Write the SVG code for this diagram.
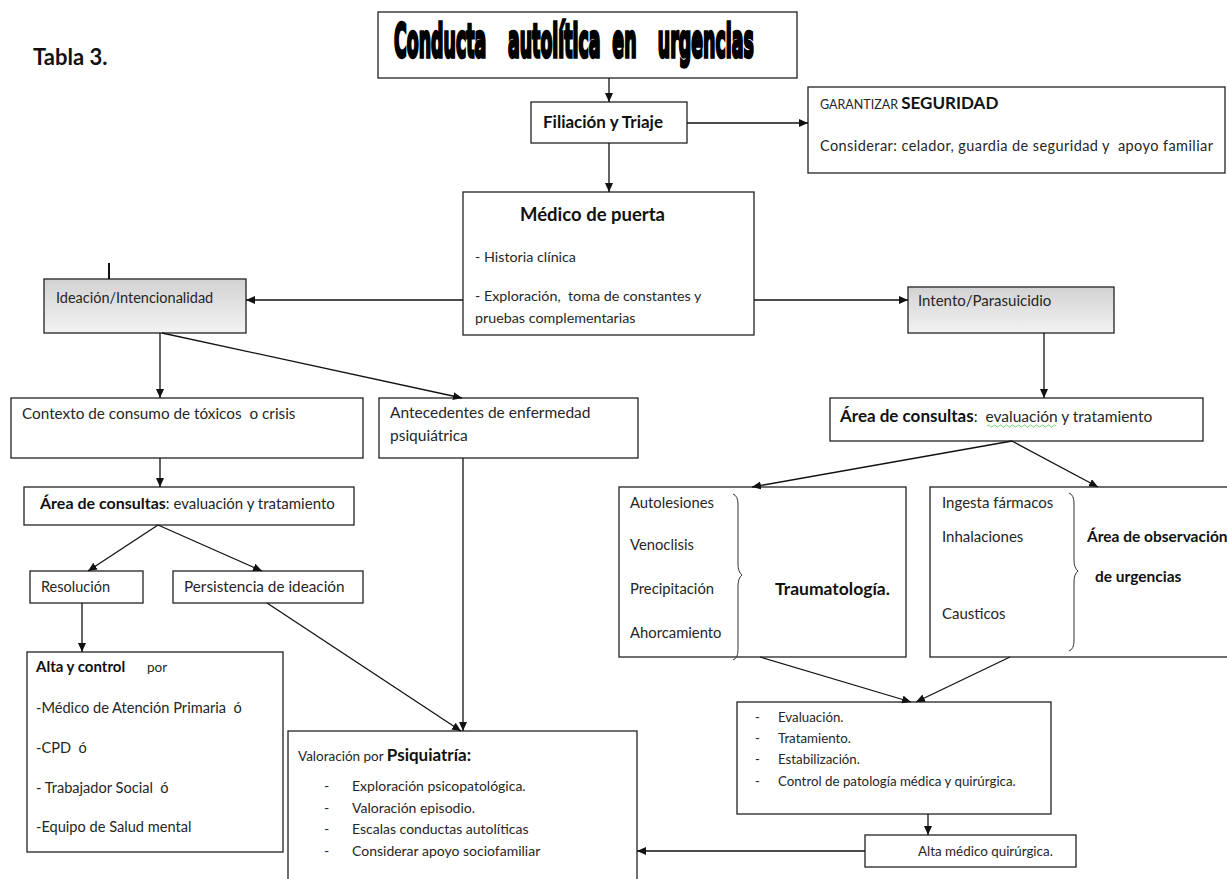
<svg xmlns="http://www.w3.org/2000/svg" width="1227" height="879" viewBox="0 0 1227 879">
<style>
.box{fill:#fff;stroke:#222;stroke-width:1.3}
.gbox{fill:url(#gray);stroke:#222;stroke-width:1.3}
.t{font-family:Lato,"Open Sans","Liberation Sans",sans-serif;font-size:15px;fill:#262626}
.b{font-weight:bold;fill:#111}
.ti{font-family:"DejaVu Sans",sans-serif;font-weight:bold;font-size:47px;fill:#000;stroke:#000;stroke-width:3.5}
.c{fill:none;stroke:#111;stroke-width:1.3}
.br{fill:none;stroke:#333;stroke-width:1}
</style>
<defs>
<linearGradient id="gray" x1="0" y1="0" x2="0" y2="1">
<stop offset="0" stop-color="#d2d2d2"/>
<stop offset="1" stop-color="#f3f3f3"/>
</linearGradient>
<marker id="ah" markerUnits="userSpaceOnUse" markerWidth="10" markerHeight="9" refX="9" refY="4" orient="auto">
<path d="M0,0 L9,4 L0,8 z" fill="#111"/>
</marker>
</defs>

<text class="t b" x="33" y="65" style="font-size:22px">Tabla 3.</text>

<g id="title">
<rect class="box" x="378" y="12" width="419" height="66"/>
<text class="ti" transform="scale(0.37,1)" y="57"><tspan x="1065">Conducta</tspan><tspan x="1373">autolítica</tspan><tspan x="1655">en</tspan><tspan x="1778">urgencias</tspan></text>
</g>

<g id="filiacion">
<rect class="box" x="531" y="102" width="156" height="41"/>
<text class="t b" x="543" y="128" style="font-size:17px">Filiación y Triaje</text>
</g>

<g id="seguridad">
<rect class="box" x="808" y="87" width="417" height="86"/>
<text class="t" x="820" y="109"><tspan style="font-size:12.5px">GARANTIZAR </tspan><tspan class="b" style="font-size:17px">SEGURIDAD</tspan></text>
<text class="t" x="820" y="151" style="font-size:14.5px" textLength="393" xml:space="preserve">Considerar: celador, guardia de seguridad y  apoyo familiar</text>
</g>

<g id="medico">
<rect class="box" x="463" y="192" width="291" height="143"/>
<text class="t b" x="520" y="221" style="font-size:18.5px">Médico de puerta</text>
<text class="t" x="475" y="262" style="font-size:14.3px">- Historia clínica</text>
<text class="t" x="475" y="301" style="font-size:14.3px" xml:space="preserve">- Exploración,  toma de constantes y</text>
<text class="t" x="475" y="323" style="font-size:14.3px">pruebas complementarias</text>
</g>

<g id="ideacion">
<rect class="gbox" x="44" y="279" width="202" height="54"/>
<text class="t" x="56" y="303" style="font-size:14.5px">Ideación/Intencionalidad</text>
</g>

<g id="intento">
<rect class="gbox" x="908" y="287" width="206" height="46"/>
<text class="t" x="918" y="306">Intento/Parasuicidio</text>
</g>

<g id="contexto">
<rect class="box" x="11" y="398" width="352" height="60"/>
<text class="t" x="22" y="419" style="font-size:15.3px" xml:space="preserve">Contexto de consumo de tóxicos  o crisis</text>
</g>

<g id="antecedentes">
<rect class="box" x="379" y="398" width="259" height="60"/>
<text class="t" x="390" y="418" style="font-size:15.5px">Antecedentes de enfermedad</text>
<text class="t" x="390" y="441" style="font-size:15.5px">psiquiátrica</text>
</g>

<g id="area-izq">
<rect class="box" x="24" y="487" width="330" height="38"/>
<text class="t" x="40" y="509"><tspan class="b" style="font-size:16px">Área de consultas</tspan><tspan style="font-size:15px">: evaluación y tratamiento</tspan></text>
</g>

<g id="resolucion">
<rect class="box" x="30" y="571" width="113" height="32"/>
<text class="t" x="41" y="592" style="font-size:14.5px">Resolución</text>
</g>

<g id="persistencia">
<rect class="box" x="173" y="571" width="190" height="32"/>
<text class="t" x="184" y="592" style="font-size:15.3px">Persistencia de ideación</text>
</g>

<g id="alta-control">
<rect class="box" x="27" y="652" width="256" height="200"/>
<text class="t" x="36" y="672"><tspan class="b" style="font-size:15px">Alta y control</tspan><tspan x="147" style="font-size:13.5px">por</tspan></text>
<text class="t" x="36" y="713" style="font-size:14.6px" xml:space="preserve">-Médico de Atención Primaria  ó</text>
<text class="t" x="36" y="753" style="font-size:14.6px" xml:space="preserve">-CPD  ó</text>
<text class="t" x="36" y="793" style="font-size:14.6px" xml:space="preserve">- Trabajador Social  ó</text>
<text class="t" x="36" y="832" style="font-size:14.6px">-Equipo de Salud mental</text>
</g>

<g id="psiquiatria">
<rect class="box" x="288" y="731" width="349" height="160"/>
<text class="t" x="298" y="761"><tspan style="font-size:13.5px">Valoración por </tspan><tspan class="b" style="font-size:17px">Psiquiatría:</tspan></text>
<text class="t" x="324" y="791" style="font-size:14px">-</text><text class="t" x="352" y="791" style="font-size:14px">Exploración psicopatológica.</text>
<text class="t" x="324" y="813" style="font-size:14px">-</text><text class="t" x="352" y="813" style="font-size:14px">Valoración episodio.</text>
<text class="t" x="324" y="834" style="font-size:14px">-</text><text class="t" x="352" y="834" style="font-size:14px">Escalas conductas autolíticas</text>
<text class="t" x="324" y="856" style="font-size:14px">-</text><text class="t" x="352" y="856" style="font-size:14px">Considerar apoyo sociofamiliar</text>
</g>

<g id="area-der">
<rect class="box" x="830" y="398" width="373" height="43"/>
<text class="t" x="840" y="422" xml:space="preserve"><tspan class="b" style="font-size:17px">Área de consultas</tspan><tspan style="font-size:15.5px">:  evaluación y tratamiento</tspan></text>
<path d="M987,426 q1.5,-2 3,0 t3,0 t3,0 t3,0 t3,0 t3,0 t3,0 t3,0 t3,0 t3,0 t3,0 t3,0 t3,0 t3,0 t3,0 t3,0 t3,0 t3,0 t3,0 t3,0 t3,0 t3,0 t3,0" fill="none" stroke="#6c6" stroke-width="0.9"/>
</g>

<g id="traumatologia">
<rect class="box" x="619" y="487" width="287" height="170"/>
<text class="t" x="630" y="508" style="font-size:14.8px">Autolesiones</text>
<text class="t" x="630" y="550" style="font-size:14.8px">Venoclisis</text>
<text class="t" x="630" y="594" style="font-size:14.8px">Precipitación</text>
<text class="t" x="630" y="638" style="font-size:14.8px">Ahorcamiento</text>
<path class="br" d="M733,494 q5,2 5,10 v60 q0,8 4,11 q-4,3 -4,11 v64 q0,8 -5,10"/>
<text class="t b" x="775" y="595" style="font-size:17.5px">Traumatología.</text>
</g>

<g id="observacion">
<rect class="box" x="930" y="487" width="300" height="170"/>
<text class="t" x="942" y="508">Ingesta fármacos</text>
<text class="t" x="942" y="542">Inhalaciones</text>
<text class="t" x="942" y="619">Causticos</text>
<path class="br" d="M1069,493 q5,2 5,10 v57 q0,8 4,11 q-4,3 -4,11 v59 q0,8 -5,10"/>
<text class="t b" x="1087" y="542" style="font-size:15.5px">Área de observación</text>
<text class="t b" x="1095" y="582" style="font-size:15.5px">de urgencias</text>
</g>

<g id="evaluacion">
<rect class="box" x="737" y="702" width="314" height="112"/>
<text class="t" x="755" y="722" style="font-size:13.3px">-</text><text class="t" x="778" y="722" style="font-size:13.3px">Evaluación.</text>
<text class="t" x="755" y="743" style="font-size:13.3px">-</text><text class="t" x="778" y="743" style="font-size:13.3px">Tratamiento.</text>
<text class="t" x="755" y="764" style="font-size:13.3px">-</text><text class="t" x="778" y="764" style="font-size:13.3px">Estabilización.</text>
<text class="t" x="755" y="786" style="font-size:13.3px">-</text><text class="t" x="778" y="786" style="font-size:13.3px">Control de patología médica y quirúrgica.</text>
</g>

<g id="alta-mq">
<rect class="box" x="865" y="835" width="211" height="32"/>
<text class="t" x="918" y="856" style="font-size:13.4px">Alta médico quirúrgica.</text>
</g>

<g id="connectors">
<line class="c" x1="609" y1="78" x2="609" y2="102" marker-end="url(#ah)"/>
<line class="c" x1="687" y1="123" x2="808" y2="123" marker-end="url(#ah)"/>
<line class="c" x1="609" y1="143" x2="609" y2="192" marker-end="url(#ah)"/>
<line class="c" x1="463" y1="300" x2="246" y2="300" marker-end="url(#ah)"/>
<line class="c" x1="754" y1="300" x2="908" y2="300" marker-end="url(#ah)"/>
<line class="c" x1="109" y1="263" x2="109" y2="279" style="stroke-width:2"/>
<line class="c" x1="160" y1="333" x2="160" y2="398" marker-end="url(#ah)"/>
<line class="c" x1="162" y1="333" x2="462" y2="398" marker-end="url(#ah)"/>
<line class="c" x1="1044" y1="333" x2="1044" y2="398" marker-end="url(#ah)"/>
<line class="c" x1="160" y1="458" x2="160" y2="487" marker-end="url(#ah)"/>
<line class="c" x1="158" y1="525" x2="88" y2="571" marker-end="url(#ah)"/>
<line class="c" x1="158" y1="525" x2="262" y2="571" marker-end="url(#ah)"/>
<line class="c" x1="82" y1="603" x2="82" y2="652" marker-end="url(#ah)"/>
<line class="c" x1="267" y1="603" x2="461" y2="731" marker-end="url(#ah)"/>
<line class="c" x1="463" y1="458" x2="463" y2="731" marker-end="url(#ah)"/>
<line class="c" x1="1012" y1="441" x2="752" y2="487" marker-end="url(#ah)"/>
<line class="c" x1="1012" y1="441" x2="1098" y2="487" marker-end="url(#ah)"/>
<line class="c" x1="760" y1="657" x2="911" y2="702" marker-end="url(#ah)"/>
<line class="c" x1="1010" y1="657" x2="916" y2="702" marker-end="url(#ah)"/>
<line class="c" x1="928" y1="814" x2="928" y2="835" marker-end="url(#ah)"/>
<line class="c" x1="865" y1="851" x2="637" y2="851" marker-end="url(#ah)"/>
</g>
</svg>
